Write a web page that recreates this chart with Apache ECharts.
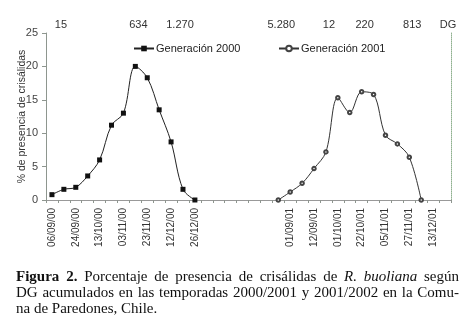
<!DOCTYPE html>
<html>
<head>
<meta charset="utf-8">
<script src="https://cdn.jsdelivr.net/npm/echarts@6/dist/echarts.min.js"></script>
<style>
  html, body { margin: 0; padding: 0; background: #fff; }
  #wrap { position: relative; width: 466px; height: 335px; overflow: hidden; }
  #chart { position: absolute; left: 0; top: 0; width: 466px; height: 335px; }
  #caption {
    position: absolute; left: 16px; top: 268px; width: 443px;
    font-family: "Liberation Serif", "DejaVu Serif", serif;
    font-size: 15px; line-height: 16px; color: #111;
  }
  #caption div { text-align: justify; text-align-last: justify; white-space: nowrap; }
  #caption div.last { text-align: left; text-align-last: left; }
</style>
</head>
<body>
<div id="wrap">
  <div id="chart"></div>
  <div id="caption">
    <div><b>Figura 2.</b> Porcentaje de presencia de crisálidas de <i>R. buoliana</i> según</div>
    <div>DG acumulados en las temporadas 2000/2001 y 2001/2002 en la Comu-</div>
    <div class="last">na de Paredones, Chile.</div>
  </div>
</div>
<script>
// fechas del eje x (una etiqueta cada dos categorias, '' = sin etiqueta)
var dateLabels = [
  '06/09/00', '', '24/09/00', '', '13/10/00', '', '03/11/00', '', '23/11/00', '',
  '12/12/00', '', '26/12/00', '', '', '', '', '', '', '',
  '01/09/01', '', '12/09/01', '', '01/10/01', '', '22/10/01', '', '05/11/01', '',
  '27/11/01', '', '13/12/01', ''
];

// % de presencia de crisalidas
var gen2000 = [0.8, 1.6, 1.9, 3.6, 6.0, 11.2, 13.0, 20.0, 18.3, 13.5, 8.7, 1.6, 0];
var gen2001 = [0, 1.2, 2.5, 4.7, 7.2, 15.3, 13.1, 16.2, 15.8, 9.7, 8.4, 6.4, 0];
var start2000 = 0;
var start2001 = 19;

// grados dia acumulados (eje superior)
var dgLabels = ['15', '634', '1.270', '5.280', '12', '220', '813', 'DG'];
var dgSlots = [2, 15, 22, 39, 47, 53, 61, 67];   // posicion en medias categorias
var dgSlotCount = 68;

var yMin = 0, yMax = 25, yStep = 5;

function placeSeries(values, start) {
  var out = [];
  for (var i = 0; i < dateLabels.length; i++) {
    var k = i - start;
    out.push(k >= 0 && k < values.length ? values[k] : '-');
  }
  return out;
}

var topCats = [];
for (var i = 0; i < dgSlotCount; i++) topCats.push('');
dgSlots.forEach(function (s, j) { topCats[s] = dgLabels[j]; });

var txt = '#333';
var axisGray = '#8e968f';

var chart = echarts.init(document.getElementById('chart'), null, { renderer: 'canvas' });
chart.setOption({
  animation: false,
  textStyle: { fontFamily: 'Liberation Sans, Arial, sans-serif' },
  grid: { left: 46, right: 15, top: 33, bottom: 135, outerBoundsMode: 'none', containLabel: false },
  legend: [
    {
      data: ['Generación 2000'], left: 128, top: 38,
      itemWidth: 20, itemHeight: 7,
      textStyle: { fontSize: 11, color: '#222', padding: [0, 0, 0, -3] }
    },
    {
      data: ['Generación 2001'], left: 273, top: 38,
      itemWidth: 20, itemHeight: 7,
      textStyle: { fontSize: 11, color: '#222', padding: [0, 0, 0, -3] }
    }
  ],
  xAxis: [
    {
      type: 'category', position: 'bottom', data: dateLabels, boundaryGap: true,
      axisLine: { lineStyle: { color: axisGray, width: 1 } },
      axisTick: { show: true, interval: 0, length: 3, lineStyle: { color: axisGray } },
      axisLabel: { interval: 0, rotate: 90, fontSize: 10, color: txt, margin: 8 }
    },
    {
      type: 'category', position: 'top', data: topCats, boundaryGap: true,
      axisLine: { lineStyle: { color: '#999' } },
      axisTick: { show: false },
      axisLabel: { interval: 0, fontSize: 11, color: txt, margin: 3 }
    }
  ],
  yAxis: [
    {
      type: 'value', min: yMin, max: yMax, interval: yStep,
      name: '% de presencia de crisálidas', nameLocation: 'middle', nameGap: 18,
      nameMoveOverlap: false,
      nameTextStyle: { fontSize: 10.5, color: txt },
      axisLine: { show: true, lineStyle: { color: axisGray } },
      axisTick: { show: true, length: 4, lineStyle: { color: axisGray } },
      axisLabel: { fontSize: 11, color: '#444', margin: 8 },
      splitLine: { show: false }
    },
    {
      type: 'value', min: yMin, max: yMax, interval: yStep, position: 'right',
      axisLine: { show: true, lineStyle: { color: '#8fb08f', type: 'dotted' } },
      axisTick: { show: false }, axisLabel: { show: false }, splitLine: { show: false }
    }
  ],
  series: [
    {
      name: 'Generación 2000', type: 'line', xAxisIndex: 0, yAxisIndex: 0,
      data: placeSeries(gen2000, start2000),
      smooth: 0.35, symbol: 'rect', symbolSize: 5,
      lineStyle: { color: '#222', width: 1 },
      itemStyle: { color: '#111', borderWidth: 0 }
    },
    {
      name: 'Generación 2001', type: 'line', xAxisIndex: 0, yAxisIndex: 0,
      data: placeSeries(gen2001, start2001),
      smooth: 0.35, symbol: 'emptyCircle', symbolSize: 3.5,
      lineStyle: { color: '#333', width: 1 },
      itemStyle: { color: '#444', borderColor: '#444', borderWidth: 1 }
    }
  ]
});
</script>
</body>
</html>
